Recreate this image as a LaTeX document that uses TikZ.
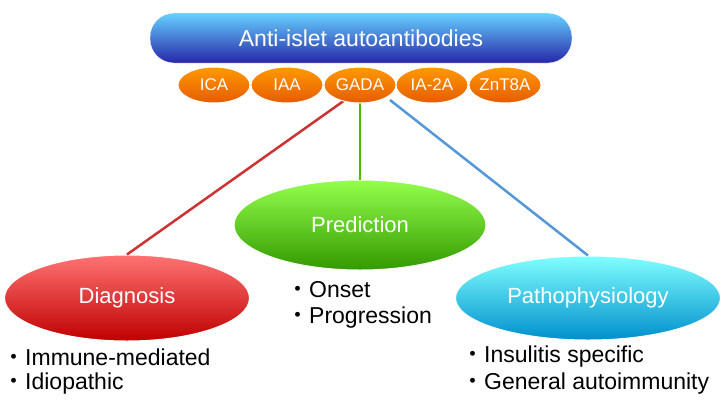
\documentclass[tikz,border=0pt]{standalone}
\usepackage{fontspec}
\usetikzlibrary{shapes.geometric}
\setmainfont{Liberation Sans}
\newfontfamily\cjk{Noto Sans CJK JP}
\begin{document}
\begin{tikzpicture}[x=1pt,y=-1pt,
  ab/.style={ellipse,minimum width=72pt,minimum height=36pt,inner sep=0pt,draw=white,line width=1pt,top color=orange!80!yellow,bottom color=orange!80!red!90!black,text=white,font=\fontsize{17}{20}\selectfont},
  big/.style={ellipse,draw=white,line width=1pt,text=white,font=\fontsize{22}{26}\selectfont},
  lst/.style={anchor=west,inner sep=0pt,font=\fontsize{23}{27}\selectfont},
  con/.style={line width=2.5pt}]
\useasboundingbox (0,0) rectangle (724,400);
\node[rounded corners=24pt,minimum width=422pt,minimum height=50pt,top color=blue!30!cyan!60!white,bottom color=blue!60!black!85,draw=white,text=white,font=\fontsize{23}{27}\selectfont] (top) at (361,38) {Anti-islet autoantibodies};
\coordinate (l1) at (345,100); \coordinate (l2) at (360,103); \coordinate (l3) at (390,100);
\node[big,minimum width=245pt,minimum height=86pt,top color=red!55!white,bottom color=red!75!black] (dia) at (127,298) {Diagnosis};
\node[big,minimum width=252pt,minimum height=90pt,top color=green!60!yellow!70!white,bottom color=green!50!black!80!yellow] (pre) at (360,225) {Prediction};
\node[big,minimum width=265pt,minimum height=84pt,top color=cyan!50!white,bottom color=cyan!70!blue!80!black] (pat) at (588,298) {Pathophysiology};
\draw[con,red!75!black!80] (l1) -- (dia.north);
\draw[con,green!60!black!70!yellow] (l2) -- (pre.north);
\draw[con,cyan!60!blue!70] (l3) -- (pat.north);
\node[ab] (ica) at (214,85) {ICA};
\node[ab] (iaa) at (287,85) {IAA};
\node[ab] (gada) at (360,85) {GADA};
\node[ab] (ia2a) at (432,85) {IA-2A};
\node[ab] (znt) at (505,85) {ZnT8A};
\node[lst] (o1) at (286,290) {{\cjk ・}Onset};
\node[lst] (o2) at (286,318) {{\cjk ・}Progression};
\node[lst] (d1) at (2,357) {{\cjk ・}Immune-mediated};
\node[lst] (d2) at (2,384) {{\cjk ・}Idiopathic};
\node[lst] (p1) at (461,357) {{\cjk ・}Insulitis specific};
\node[lst] (p2) at (461,384) {{\cjk ・}General autoimmunity};
\end{tikzpicture}
\end{document}
